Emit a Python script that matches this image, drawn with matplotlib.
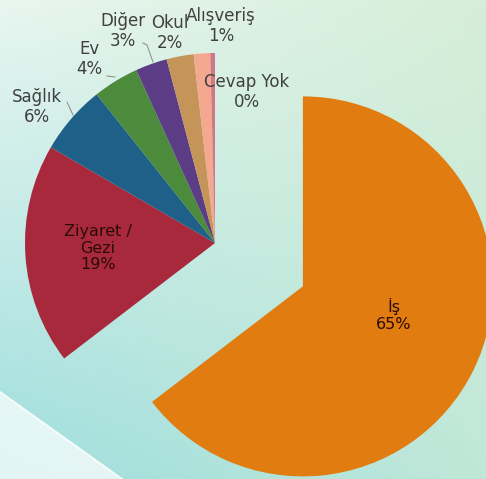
import numpy as np
import matplotlib.pyplot as plt

# trip purpose shares (%)
categories = ["İş", "Ziyaret /\nGezi", "Sağlık", "Ev", "Diğer", "Okul", "Alışveriş", "Cevap Yok"]
shares = [64.6, 18.8, 5.9, 3.9, 2.7, 2.3, 1.4, 0.4]
colors = ["#E07C10", "#A8283C", "#1E6088", "#4C8A3C", "#5C3C84", "#C49458", "#F4A890", "#D07888"]

W, H = 486, 479
fig = plt.figure(figsize=(W / 100, H / 100), dpi=100)
ax = fig.add_axes([0, 0, 1, 1])

# soft mint/teal backdrop
tl = np.array([232, 246, 240]) / 255
tr = np.array([214, 238, 216]) / 255
bl = np.array([158, 222, 222]) / 255
br = np.array([192, 232, 216]) / 255
u = np.linspace(0, 1, 120)[None, :, None]
v = np.linspace(0, 1, 120)[:, None, None]
bg = (1 - v) * ((1 - u) * tl + u * tr) + v * ((1 - u) * bl + u * br)
ax.imshow(bg, extent=[0, W, 0, H], origin="upper", aspect="auto", zorder=0)
ax.fill([0, 122, 0], [87, 0, 0], color="white", alpha=0.7, lw=0, zorder=0.5)
ax.plot([0, 122], [87, 0], color="white", lw=1.5, alpha=0.8, zorder=0.5)

explode = [98] + [0] * (len(shares) - 1)
wedges, _ = ax.pie(shares, colors=colors, startangle=90, counterclock=False,
                   radius=190, center=(215, 236), explode=explode,
                   wedgeprops=dict(linewidth=0))

labels = [f"{c}\n{s:.0f}%" for c, s in zip(categories, shares)]
label_pos = [(394, 164), (98, 231), (37, 372), (89, 420), (123, 448),
             (170, 446), (221, 453), (247, 387)]
for i, (txt, (x, y)) in enumerate(zip(labels, label_pos)):
    inside = i < 2
    ax.text(x, y, txt, ha="center", va="center", fontsize=12 if not inside else 11.5,
            color="#2a0c06" if inside else "#404040", linespacing=1.15, zorder=3)

# leader lines
ax.plot([67, 73], [377, 364], color="#888888", lw=0.7, zorder=2)
ax.plot([107, 115], [403, 402], color="#888888", lw=0.7, zorder=2)
ax.plot([143, 147, 153], [436, 434, 417], color="#888888", lw=0.7, zorder=2)

ax.set_xlim(0, W)
ax.set_ylim(0, H)
ax.set_aspect("auto")
ax.axis("off")
fig.savefig("out.png", dpi=100)
